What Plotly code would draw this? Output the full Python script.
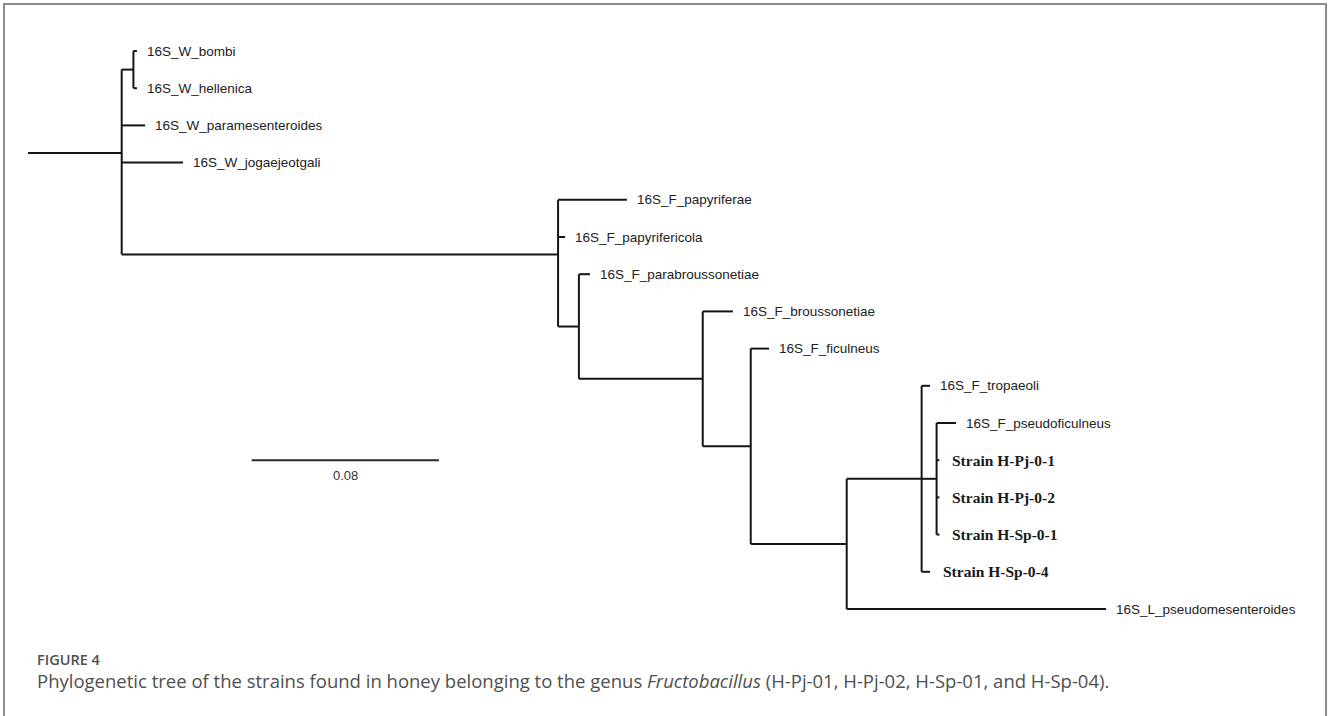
import plotly.graph_objects as go

# ---------------- data ----------------
# tree nodes (tips + internal), parent index, branch length (substitutions/site)
node_names = [
    "root", "W1", "16S_W_bombi", "16S_W_hellenica", "16S_W_paramesenteroides",
    "16S_W_jogaejeotgali", "F1", "16S_F_papyriferae", "16S_F_papyrifericola",
    "F2", "16S_F_parabroussonetiae", "F3", "16S_F_broussonetiae", "F4",
    "16S_F_ficulneus", "F5", "F6", "16S_F_tropaeoli", "F7", "16S_F_pseudoficulneus",
    "Strain H-Pj-0-1", "Strain H-Pj-0-2", "Strain H-Sp-0-1", "Strain H-Sp-0-4",
    "16S_L_pseudomesenteroides",
]
node_parents = [
    None, 0, 1, 1, 0,
    0, 0, 6, 6,
    6, 9, 9, 11, 11,
    13, 13, 15, 16, 16, 18,
    18, 18, 18, 16,
    15,
]
branch_lengths = [
    0.0, 0.0050, 0.0015, 0.0015, 0.0100,
    0.0262, 0.1864, 0.0294, 0.0030,
    0.0089, 0.0047, 0.0529, 0.0129, 0.0205,
    0.0078, 0.0410, 0.0320, 0.0036, 0.0064, 0.0083,
    0.0012, 0.0012, 0.0012, 0.0036,
    0.1108,
]
root_stem = 0.040
scale_bar_length = 0.08
scale_bar_start = 0.0555
caption_title = "FIGURE 4"
caption_text = ("Phylogenetic tree of the strains found in honey belonging to the genus "
                "<i>Fructobacillus</i> (H-Pj-01, H-Pj-02, H-Sp-01, and H-Sp-04).")

# ---------------- layout computation ----------------
n = len(node_names)
children = {i: [] for i in range(n)}
for i, p in enumerate(node_parents):
    if p is not None:
        children[p].append(i)

xpos = [0.0] * n
for i in range(n):
    p = node_parents[i]
    xpos[i] = branch_lengths[i] if p is None else xpos[p] + branch_lengths[i]

ypos = [0.0] * n
tip_counter = [0]


def assign_y(i):
    if not children[i]:
        ypos[i] = tip_counter[0]
        tip_counter[0] += 1
    else:
        for c in children[i]:
            assign_y(c)
        ypos[i] = sum(ypos[c] for c in children[i]) / len(children[i])


assign_y(0)

lx, ly = [], []
# root stem
lx += [xpos[0] - root_stem, xpos[0], None]
ly += [ypos[0], ypos[0], None]
for i in range(n):
    p = node_parents[i]
    if p is not None:
        lx += [xpos[p], xpos[i], None]
        ly += [ypos[i], ypos[i], None]
    if children[i]:
        ys = [ypos[c] for c in children[i]]
        lx += [xpos[i], xpos[i], None]
        ly += [min(ys), max(ys), None]

fig = go.Figure()
fig.add_trace(go.Scatter(x=lx, y=ly, mode="lines",
                         line=dict(color="#151515", width=2),
                         hoverinfo="skip", showlegend=False))

# scale bar
sb_y = 11
fig.add_trace(go.Scatter(x=[scale_bar_start, scale_bar_start + scale_bar_length],
                         y=[sb_y, sb_y], mode="lines",
                         line=dict(color="#2a2a2a", width=2),
                         hoverinfo="skip", showlegend=False))
fig.add_annotation(x=scale_bar_start + scale_bar_length / 2, y=sb_y, text=f"{scale_bar_length:.2f}",
                   showarrow=False, yshift=-15, xanchor="center", yanchor="middle",
                   font=dict(family="Liberation Sans", size=13, color="#333333"))

# tip labels
for i in range(n):
    if children[i]:
        continue
    name = node_names[i]
    if name.startswith("Strain"):
        txt = f"<b>{name}</b>"
        font = dict(family="Liberation Serif", size=15.5, color="#1a1a1a")
        shift = 11
    else:
        txt = name
        font = dict(family="Liberation Sans", size=13.5, color="#222222")
        shift = 8
    fig.add_annotation(x=xpos[i], y=ypos[i], text=txt, showarrow=False,
                       xanchor="left", yanchor="middle", xshift=shift, font=font)

W, H = 1328, 716
PX_PER_UNIT = 2341.0
ROOT_PX = 121.7
TIP0_PX = 51.0
ROW_PX = 37.2
xmin = -ROOT_PX / PX_PER_UNIT
xmax = xmin + W / PX_PER_UNIT
ytop = -TIP0_PX / ROW_PX
ybot = ytop + H / ROW_PX

# caption
fig.add_annotation(xref="paper", yref="paper", x=35 / W, y=1 - 659 / H, text=caption_title,
                   showarrow=False, xanchor="left", yanchor="middle",
                   font=dict(family="Open Sans", size=14.5, color="#4f4f4f", weight=600))
fig.add_annotation(xref="paper", yref="paper", x=35 / W, y=1 - 680 / H, text=caption_text,
                   showarrow=False, xanchor="left", yanchor="middle",
                   font=dict(family="Open Sans", size=18.5, color="#4f4f4f"))

# outer frame
fig.add_shape(type="rect", xref="paper", yref="paper",
              x0=4 / W, x1=1326 / W, y0=-0.05, y1=1 - 4 / H,
              line=dict(color="#8c8c8c", width=2), fillcolor="rgba(0,0,0,0)")

fig.update_layout(
    width=W, height=H,
    margin=dict(l=0, r=0, t=0, b=0),
    paper_bgcolor="white", plot_bgcolor="white",
    xaxis=dict(range=[xmin, xmax], visible=False, showgrid=False, zeroline=False),
    yaxis=dict(range=[ybot, ytop], visible=False, showgrid=False, zeroline=False),
    showlegend=False,
)

fig.write_html("out.html", config={"displayModeBar": False},
               post_script="document.body.style.margin='0';")
